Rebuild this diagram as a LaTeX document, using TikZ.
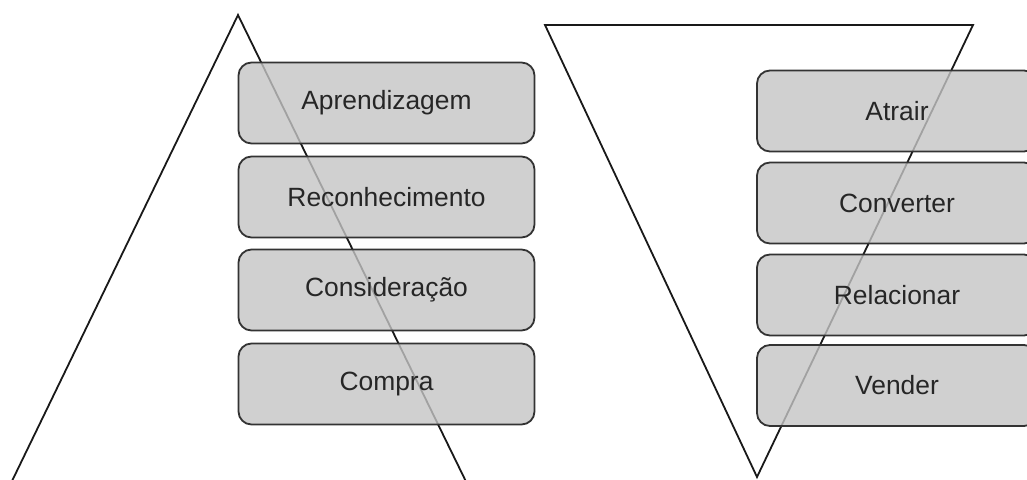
\documentclass[tikz,border=0pt]{standalone}
\usepackage{fontspec}
\setmainfont{Liberation Sans}
\begin{document}
\begin{tikzpicture}[x=1pt,y=-1pt,
  tri/.style={draw=black!90,line width=1.8pt,line join=miter},
  stage/.style={draw=black!80,line width=1.8pt,rounded corners=13pt,
    fill=black!23,fill opacity=0.8,text opacity=1,text=black!85,
    minimum height=81pt,inner sep=0pt,
    font=\fontsize{26.4}{30}\selectfont},
  lstage/.style={stage,minimum width=296pt},
  rstage/.style={stage,minimum width=280pt}]
\useasboundingbox (0,0) rectangle (1027,479);
\clip (0,0) rectangle (1027,479);
% left triangle
\coordinate (LA) at (238,15);
\coordinate (LL) at (2.8,500);
\coordinate (LR) at (475,500);
\draw[tri] (LL) -- (LA) -- (LR) -- cycle;
% right inverted triangle
\coordinate (RL) at (545,25);
\coordinate (RR) at (973,25);
\coordinate (RA) at (757,477);
\draw[tri] (RL) -- (RR) -- (RA) -- cycle;
% left stages
\node[lstage] (a1) at (386.5,103) {Aprendizagem};
\node[lstage] (a2) at (386.5,197) {Reconhecimento};
\node[lstage] (a3) at (386.5,290) {Consideração};
\node[lstage] (a4) at (386.5,384) {Compra};
% right stages
\node[rstage] (b1) at (897,111) {Atrair};
\node[rstage] (b2) at (897,203) {Converter};
\node[rstage] (b3) at (897,295) {Relacionar};
\node[rstage] (b4) at (897,385.5) {Vender};
\end{tikzpicture}
\end{document}
